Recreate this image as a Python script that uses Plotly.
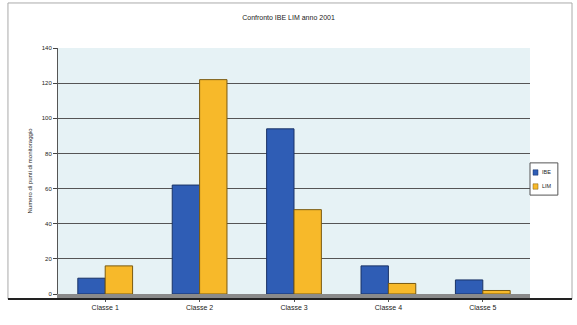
import plotly.graph_objects as go

categories = ["Classe 1", "Classe 2", "Classe 3", "Classe 4", "Classe 5"]
ibe = [9, 62, 94, 16, 8]
lim = [16, 122, 48, 6, 2]
y_ticks = [0, 20, 40, 60, 80, 100, 120, 140]
series_names = ["IBE", "LIM"]
series_colors = ["#2f5db5", "#f7b92a"]
series_edges = ["#1a3366", "#7a5a10"]

fig = go.Figure()
for name, vals, col, edge in zip(series_names, [ibe, lim], series_colors, series_edges):
    fig.add_trace(go.Bar(x=categories, y=vals, name=name,
                         marker=dict(color=col, line=dict(color=edge, width=1))))

# compact legend drawn as shapes + annotations
shapes = [
    dict(type="rect", xref="paper", yref="paper", x0=-0.106, x1=1.089,
         y0=-0.02, y1=1.183, line=dict(color="#aaa", width=1), layer="below"),
    dict(type="line", xref="paper", yref="paper", x0=-0.106, x1=1.089,
         y0=-0.02, y1=-0.02, line=dict(color="#222", width=2)),
    dict(type="rect", xref="paper", yref="paper", x0=1.0, x1=1.059,
         y0=0.402, y1=0.533, line=dict(color="#555", width=1), fillcolor="white"),
]
annotations = []
legend_rows = [(0.494, 0), (0.437, 1)]
for yc, i in legend_rows:
    shapes.append(dict(type="rect", xref="paper", yref="paper", x0=1.0064, x1=1.017,
                       y0=yc - 0.011, y1=yc + 0.011,
                       line=dict(color=series_edges[i], width=0.5),
                       fillcolor=series_colors[i]))
    annotations.append(dict(xref="paper", yref="paper", x=1.022, y=yc,
                            xanchor="left", yanchor="middle", showarrow=False,
                            text=series_names[i], font=dict(size=5.5, color="#222")))

fig.update_layout(
    width=577, height=325,
    margin=dict(l=58, r=47, t=48, b=31, autoexpand=False),
    paper_bgcolor="white",
    plot_bgcolor="#e6f2f5",
    title=dict(text="Confronto IBE LIM anno 2001", x=0.5, xanchor="center", y=0.955,
               font=dict(family="Arial", size=7, color="#222")),
    font=dict(family="Arial", size=7, color="#222"),
    barmode="group",
    bargap=0.42,
    bargroupgap=0.0,
    showlegend=False,
    xaxis=dict(showline=True, linecolor="#8a8a8a", linewidth=5, ticks="outside",
               ticklen=3, tickcolor="#555", tickfont=dict(size=7)),
    yaxis=dict(range=[0, 140], tickvals=y_ticks, showgrid=True, gridcolor="#555",
               gridwidth=1, showline=True, linecolor="#555", ticks="outside",
               ticklen=4, tickfont=dict(size=6), zeroline=False,
               title=dict(text="Numero di punti di monitoraggio", font=dict(size=6),
                          standoff=8)),
    shapes=shapes,
    annotations=annotations,
)

fig.write_html("out.html")
